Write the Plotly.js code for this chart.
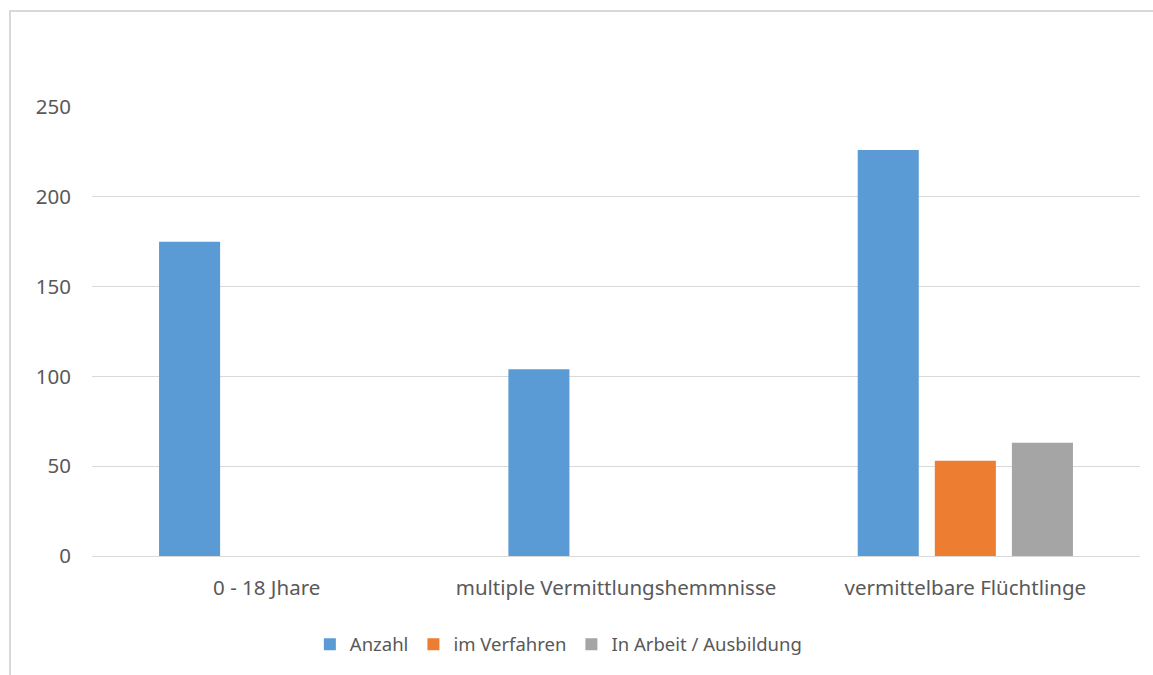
<!DOCTYPE html>
<html><head><meta charset="utf-8">
<script src="https://cdn.plot.ly/plotly-3.0.1.min.js"></script>
<style>
html,body{margin:0;padding:0;background:#fff;}
#wrap{position:absolute;left:9px;top:10px;width:1144px;height:665px;border-left:2px solid #d9d9d9;border-top:2px solid #d9d9d9;box-sizing:border-box;}
#chart{position:absolute;left:-2px;top:-2px;width:1144px;height:665px;}
</style></head>
<body><div id="wrap"><div id="chart"></div></div>
<script>
const categories = ["0 - 18 Jhare", "multiple Vermittlungshemmnisse", "vermittelbare Flüchtlinge"];
const anzahl = [175, 104, 226];
const imVerfahren = [null, null, 53];
const inArbeit = [null, null, 63];
const seriesNames = ["Anzahl", "im Verfahren", "In Arbeit / Ausbildung"];
const colors = ["#5B9BD5", "#ED7D31", "#A5A5A5"];

const fam = "Noto Sans, Open Sans, sans-serif";
const tickFont = {family: fam, size: 20.5, color: "#595959"};
const legFont = {family: fam, size: 18.5, color: "#595959"};
const data = [anzahl, imVerfahren, inArbeit].map((v, i) => ({
  type: "bar", x: categories, y: v, name: seriesNames[i],
  marker: {color: colors[i]}, hoverinfo: "x+y"
}));
const layout = {
  width: 1144, height: 665,
  margin: {l: 83, r: 13, t: 97, b: 118},
  paper_bgcolor: "rgba(0,0,0,0)", plot_bgcolor: "#fff",
  font: tickFont,
  barmode: "group", bargap: 0.338, bargroupgap: 0.208,
  xaxis: {type: "category", showgrid: false, zeroline: false, showline: false,
          ticks: "", ticklabelstandoff: 17, tickfont: tickFont},
  yaxis: {range: [0, 250], dtick: 50, tick0: 0, showgrid: true, gridcolor: "#d9d9d9", gridwidth: 1,
          zeroline: true, zerolinecolor: "#d9d9d9", zerolinewidth: 1, showline: false,
          ticks: "", ticklabelstandoff: 20, tickfont: tickFont},
  showlegend: true,
  legend: {orientation: "h", x: 0.445, xanchor: "center", y: -0.195, yanchor: "middle",
           font: legFont, itemwidth: 30, tracegroupgap: 0, traceorder: "normal"}
};
Plotly.newPlot("chart", data, layout, {displayModeBar: false});
</script></body></html>
